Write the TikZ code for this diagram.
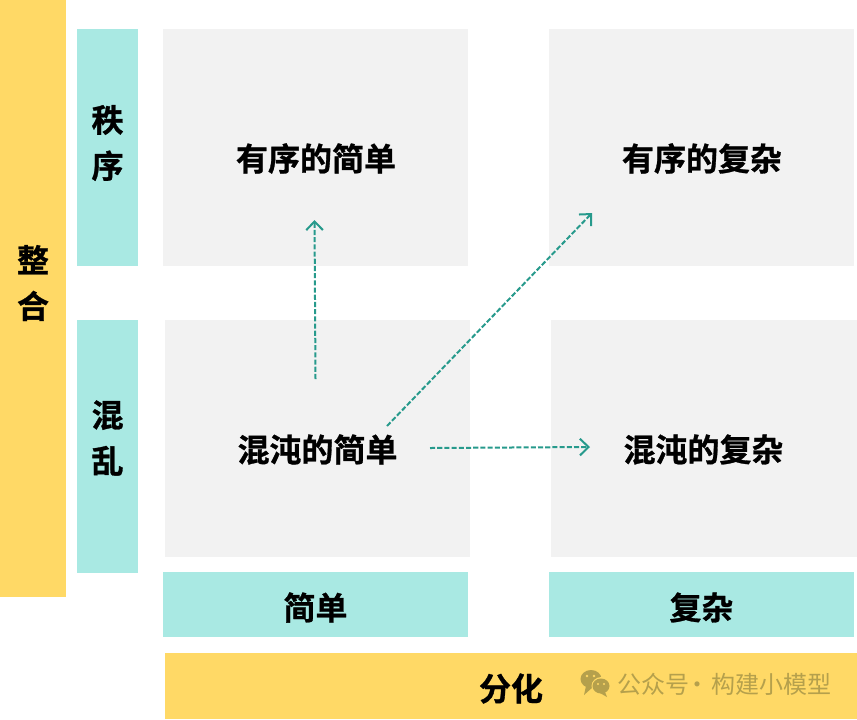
\documentclass[tikz,border=0pt]{standalone}
\usepackage{fontspec}
\setmainfont{Noto Sans CJK SC}[BoldFont={* Bold},BoldFeatures={FakeBold=0.9}]
\usetikzlibrary{arrows.meta}
\definecolor{ygold}{HTML}{FFD966}
\definecolor{mint}{HTML}{A9E9E3}
\definecolor{pale}{HTML}{F2F2F2}
\definecolor{flowteal}{HTML}{279A8C}
\definecolor{wmgold}{HTML}{B5A04C}
\tikzset{
  x=0.75pt,y=-0.75pt,
  panel/.style={inner sep=0,outer sep=0,anchor=north west,fill=#1},
  lab/.style={font=\bfseries\fontsize{24}{30}\selectfont,text=black,inner sep=0},
  vlab/.style={lab,align=center,font=\bfseries\fontsize{24}{34.5}\selectfont},
  flow/.style={flowteal,line width=1.5pt,dash pattern=on 3.8pt off 1.6pt,-{Straight Barb[length=6.5pt,width=12.5pt,line width=1.5pt]}},
  wm/.style={font=\fontsize{18}{22}\selectfont,text=wmgold,inner sep=0,anchor=west},
}
\newcommand{\boxat}[6]{\node[panel=#6,minimum width=#4*0.75pt,minimum height=#5*0.75pt] (#1) at (#2,#3) {};}
\begin{document}
\begin{tikzpicture}
\useasboundingbox (0,0) rectangle (857,719);
\fill[white] (0,0) rectangle (857,719);
\boxat{zheng}{0}{0}{66}{597}{ygold}
\boxat{zhi}{77}{29}{61}{237}{mint}
\boxat{hun}{77}{320}{61}{253}{mint}
\boxat{a}{163}{29}{305}{237}{pale}
\boxat{b}{549}{29}{305}{237}{pale}
\boxat{c}{165}{320}{305}{237}{pale}
\boxat{d}{551}{320}{306}{237}{pale}
\boxat{jian}{163}{572}{305}{65}{mint}
\boxat{fu}{549}{572}{305}{65}{mint}
\boxat{fen}{165}{653}{692}{66}{ygold}
\node[vlab] (tzheng) at (33,283) {整\\合};
\node[vlab] (tzhi) at (107.5,143) {秩\\序};
\node[vlab] (thun) at (107.5,438) {混\\乱};
\node[lab] (ta) at (316,158.5) {有序的简单};
\node[lab] (tb) at (702,158.5) {有序的复杂};
\node[lab] (tc) at (317.5,449.5) {混沌的简单};
\node[lab] (td) at (703.5,449.5) {混沌的复杂};
\node[lab] (tjian) at (315.5,607.5) {简单};
\node[lab] (tfu) at (701.5,607.5) {复杂};
\node[lab] (tfen) at (511,688.5) {分化};
\coordinate (s1) at (315.5,379);
\coordinate (e1) at (314.5,220);
\coordinate (s2) at (387,426);
\coordinate (e2) at (592,213);
\coordinate (s3) at (430,448);
\coordinate (e3) at (590,447);
\draw[flow] (s1) -- (e1);
\draw[flow] (s2) -- (e2);
\draw[flow] (s3) -- (e3);
% watermark
\fill[wmgold] (591,679) ellipse (10.5 and 9);
\fill[wmgold] (586,686) -- (584,695) -- (593,687) -- cycle;
\fill[ygold] (601.5,686) ellipse (10 and 9);
\fill[wmgold] (601,686) ellipse (8.5 and 7.5);
\fill[wmgold] (605,692) -- (607,697) -- (600,693) -- cycle;
\fill[ygold] (587,676) circle (1.4) (594,676) circle (1.4) (598,684) circle (1.2) (604,684) circle (1.2);
\node[wm] (w1) at (617,684.5) {公众号\hspace{-3pt}·\hspace{1.5pt}构建小模型};
\end{tikzpicture}
\end{document}
